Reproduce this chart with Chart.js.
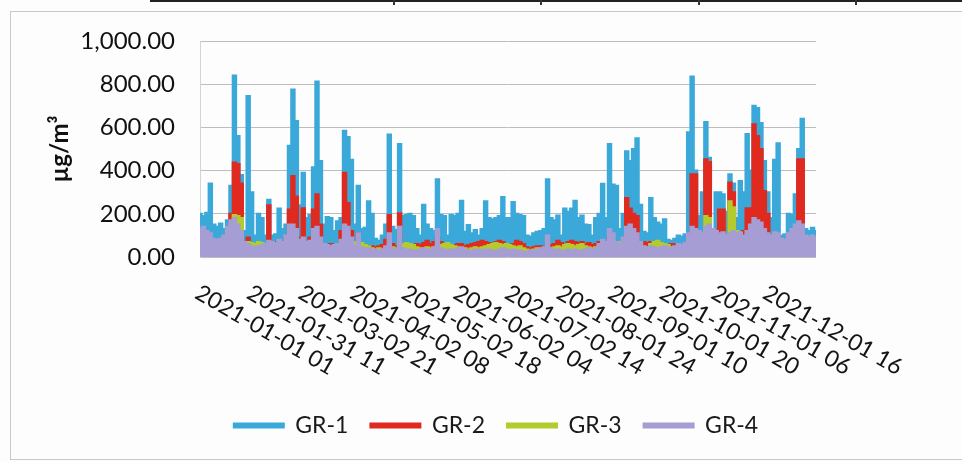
<!DOCTYPE html>
<html>
<head>
<meta charset="utf-8">
<script src="https://cdn.jsdelivr.net/npm/chart.js@4"></script>
<style>
html,body{margin:0;padding:0;background:#fdfdfd;}
#wrap{position:relative;width:962px;height:462px;overflow:hidden;background:#fdfdfd;}
#frame{position:absolute;left:10px;top:11px;width:1000px;height:449px;border:1.5px solid #c9c9c9;box-sizing:border-box;}
#topline{position:absolute;left:150px;top:0;right:0;height:2px;background:#222;}
.vt{position:absolute;top:0;width:1.5px;height:5px;background:#333;}
canvas{position:absolute;left:0;top:0;}
</style>
</head>
<body>
<div id="wrap">
  <div id="topline"></div>
  <div class="vt" style="left:393px"></div>
  <div class="vt" style="left:540px"></div>
  <div class="vt" style="left:698px"></div>
  <div class="vt" style="left:855px"></div>
  <div id="frame"></div>
  <canvas id="c" width="962" height="462"></canvas>
</div>
<script>
// ---- data (one value per ~2 days) ----
const tickLabels = ['2021-01-01 01','2021-01-31 11','2021-03-02 21','2021-04-02 08','2021-05-02 18','2021-06-02 04',
                    '2021-07-02 14','2021-08-01 24','2021-09-01 10','2021-10-01 20','2021-11-01 06','2021-12-01 16'];
const LABEL_EVERY = 15;
const seriesNames = ['GR-1','GR-2','GR-3','GR-4'];

const GR1 = [
  200,190,205,340,150,140,155,130,170,330,840,560,380,120,745,
  300,100,200,180,100,265,100,105,225,130,150,515,775,630,240,
  390,180,195,415,812,445,150,185,180,120,165,180,585,555,450,
  150,330,130,135,258,200,85,75,100,150,567,140,125,523,190,
  195,200,190,130,100,242,150,130,120,360,195,190,100,195,190,
  200,260,117,148,110,125,100,130,258,180,175,180,190,278,180,
  180,255,200,195,190,100,95,110,117,120,130,360,180,170,192,
  100,225,210,225,260,180,192,150,148,100,180,200,339,180,523,
  336,330,130,200,490,445,500,550,242,117,110,273,180,160,150,
  175,80,75,85,100,95,105,578,836,400,190,300,625,460,130,
  300,300,290,210,383,340,180,352,300,570,400,700,690,620,445,
  300,180,450,527,100,105,200,195,290,500,640,130,120,135,120
];
const GR2 = [
  90,100,80,70,60,55,60,50,70,200,437,430,340,60,90,
  55,50,60,55,50,240,60,70,60,55,90,220,375,280,90,
  226,70,90,220,290,150,60,50,60,55,60,120,390,250,120,
  60,110,60,55,50,50,45,50,55,80,195,60,50,203,60,
  55,50,50,60,55,65,75,60,70,90,70,60,55,50,55,
  60,60,50,55,60,65,70,75,70,65,60,70,75,70,60,
  55,60,75,70,60,45,40,45,50,50,45,60,55,60,75,
  65,55,70,75,70,65,70,60,65,55,60,70,65,60,90,
  60,50,45,60,273,225,200,190,70,70,65,70,50,45,50,
  55,50,60,60,45,40,45,90,383,383,80,90,453,440,60,
  100,220,220,80,345,300,100,90,120,226,226,615,560,500,305,
  200,70,80,90,50,50,60,70,90,453,453,55,50,60,45
];
const GR3 = [
  40,45,40,40,35,40,45,50,60,150,195,190,180,60,70,
  65,60,70,65,50,55,55,60,70,65,60,70,80,60,55,
  60,50,60,75,78,70,60,50,45,50,55,60,70,60,65,
  70,60,65,55,50,40,35,40,35,40,50,45,40,50,60,
  65,60,55,45,40,40,45,40,45,50,55,60,65,55,50,
  45,40,40,35,40,45,40,45,50,55,60,65,60,55,60,
  55,50,45,50,40,35,30,35,40,35,40,45,40,45,50,
  45,55,60,55,50,55,60,50,45,40,45,50,55,50,60,
  70,65,70,60,55,50,45,50,45,40,45,60,70,75,65,
  60,55,45,40,35,40,45,60,70,80,60,100,190,180,70,
  60,80,70,100,258,230,120,90,80,100,120,150,140,100,80,
  70,60,55,60,50,45,40,45,50,60,55,45,40,35,40
];
const GR4 = [
  130,140,120,110,85,80,85,100,140,170,180,150,120,70,60,
  50,45,50,55,60,75,70,65,80,70,100,150,150,130,80,
  90,70,75,130,140,90,60,55,50,55,60,80,150,140,90,
  50,110,45,40,40,35,35,30,35,50,110,40,35,140,40,
  35,35,30,30,35,40,35,35,45,130,40,35,30,35,35,
  40,45,35,30,30,35,35,30,35,35,30,30,35,40,35,
  30,35,30,30,25,25,30,30,35,40,45,100,40,30,35,
  30,30,35,30,35,30,30,35,40,35,40,60,80,70,130,
  110,70,60,90,140,150,130,110,70,50,45,50,45,40,45,
  50,45,40,50,60,55,65,110,140,130,120,110,140,150,130,
  120,110,115,100,110,120,110,115,100,120,150,180,170,160,130,
  110,100,115,110,85,80,110,130,150,165,150,100,95,100,90
];
const seriesColors = ['#3aa9da','#e02a1f','#b3cb2c','#a59dd4'];

// ---- chart ----
const categories = GR1.map((_, i) => (i % LABEL_EVERY === 0 ? tickLabels[i / LABEL_EVERY] : ''));
const seriesData = [GR1, GR2, GR3, GR4];

const FONT = 'Lato';
const xLabelPlugin = {
  id: 'rotatedXLabels',
  afterDraw(chart) {
    const xs = chart.scales.x, ctx = chart.ctx;
    ctx.save();
    ctx.font = '23px ' + FONT;
    ctx.fillStyle = '#141414';
    ctx.textAlign = 'left';
    ctx.textBaseline = 'top';
    tickLabels.forEach((t, k) => {
      const x = xs.getPixelForValue(k * LABEL_EVERY);
      ctx.save();
      ctx.translate(x + 3, xs.top + 24);
      ctx.rotate(30 * Math.PI / 180);
      ctx.fillText(t, 0, 0);
      ctx.restore();
    });
    ctx.restore();
  }
};
const legendShift = {
  id: 'legendShift',
  afterLayout(chart) {
    const lg = chart.legend;
    if (!lg) return;
    const dx = 496 - (lg.left + lg.right) / 2;
    lg.left += dx; lg.right += dx;
  }
};

new Chart(document.getElementById('c'), {
  type: 'line',
  data: {
    labels: categories,
    datasets: seriesData.map((d, k) => ({
      label: seriesNames[k],
      data: d,
      borderColor: seriesColors[k],
      backgroundColor: seriesColors[k],
      borderWidth: 2,
      pointRadius: 0,
      fill: 'origin',
      stepped: 'middle',
      order: 4 - k
    }))
  },
  options: {
    responsive: false,
    animation: false,
    layout: { padding: { left: 0, right: 146, top: 41, bottom: 15 } },
    plugins: {
      legend: {
        position: 'bottom',
        labels: {
          font: { family: FONT, size: 23 },
          color: '#1a1a1a',
          boxWidth: 50,
          boxHeight: 4,
          padding: 22,
          sort: (a, b) => a.datasetIndex - b.datasetIndex
        }
      },
      tooltip: { enabled: false }
    },
    scales: {
      x: {
        type: 'category',
        grid: { display: false },
        border: { display: false },
        ticks: { display: false },
        afterFit(s) { s.height = 135; }
      },
      y: {
        min: 0, max: 1000,
        ticks: {
          stepSize: 200, padding: 25, color: '#111',
          font: { family: FONT, size: 24 },
          callback: v => Number(v).toLocaleString('en-US', { minimumFractionDigits: 2, maximumFractionDigits: 2 })
        },
        grid: { color: '#bdbdbd', lineWidth: 1, drawTicks: false },
        border: { display: true, color: '#d4d4d4' },
        title: {
          display: true, text: 'µg/m³', color: '#111',
          font: { family: FONT, size: 24, weight: 'bold' },
          padding: { top: 46, bottom: 0 }
        },
        afterFit(s) { s.width = 200; }
      }
    }
  },
  plugins: [xLabelPlugin, legendShift]
});
</script>
</body>
</html>
